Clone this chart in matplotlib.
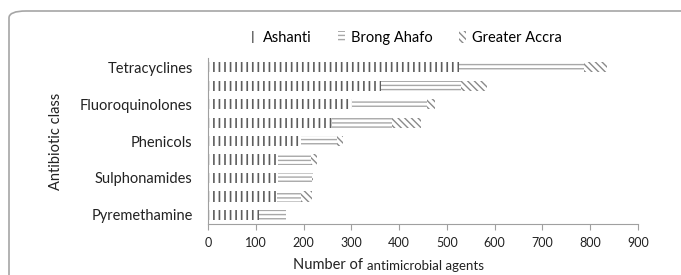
import matplotlib.pyplot as plt
from matplotlib.patches import FancyBboxPatch
import numpy as np

plt.rcParams['font.family'] = ['Lato', 'DejaVu Sans']

# categories top to bottom (Excel skipped every second label)
categories = ['Tetracyclines', '', 'Fluoroquinolones', '', 'Phenicols', '',
              'Sulphonamides', '', 'Pyremethamine']
ashanti = np.array([526, 363, 302, 260, 195, 147, 147, 145, 107])
brong_ahafo = np.array([261, 166, 157, 126, 75, 69, 70, 50, 57])
greater_accra = np.array([48, 54, 17, 59, 13, 13, 3, 23, 0])
series_names = ['Ashanti', 'Brong Ahafo', 'Greater Accra']

fig = plt.figure(figsize=(6.81, 2.75), dpi=100)
ax = fig.add_axes([0.3054, 0.185, 0.6314, 0.604])

# rounded frame around the figure (cut off at right/bottom)
frame = FancyBboxPatch((9 / 681, -0.1), 1.2, 1.06,
                       boxstyle='round,pad=0,rounding_size=0.025',
                       transform=fig.transFigure, fill=False,
                       edgecolor='#a6a6a6', linewidth=1.2, clip_on=False)
fig.patches.append(frame)

y = np.arange(len(categories))
h = 0.55

b1 = ax.barh(y, ashanti, height=h, color='white', edgecolor='#5e5e5e',
             hatch='|||', linewidth=0, label=series_names[0])
b2 = ax.barh(y, brong_ahafo, left=ashanti, height=h, color='white',
             edgecolor='#a8a8a8', hatch='----', linewidth=0,
             label=series_names[1])
b3 = ax.barh(y, greater_accra, left=ashanti + brong_ahafo, height=h,
             color='white', edgecolor='#8a8a8a', hatch='\\\\\\\\\\',
             linewidth=0, label=series_names[2])
for bars, lw in [(b1, 1.2), (b2, 1.0), (b3, 1.0)]:
    for p in bars:
        if hasattr(p, 'set_hatch_linewidth'):
            p.set_hatch_linewidth(lw)

ax.set_xlim(0, 900)
ax.set_ylim(8.5, -0.5)
ax.set_xticks(np.arange(0, 901, 100))
ax.set_yticks(y)
ax.set_yticklabels(categories, fontsize=10.5, color='#222222')
ax.tick_params(axis='y', length=0, pad=11)
ax.tick_params(axis='x', length=4, color='#a0a0a0', labelsize=9,
               labelcolor='#222222', pad=5)
for s in ['top', 'right']:
    ax.spines[s].set_visible(False)
ax.spines['left'].set_color('#a0a0a0')
ax.spines['bottom'].set_color('#a0a0a0')

ax.set_ylabel('Antibiotic class', fontsize=10.5, color='#222222', labelpad=12)

t1 = fig.text(0.430, 0.01, 'Number of', fontsize=10.5, color='#222222',
              ha='left', va='bottom')
ax.annotate('antimicrobial agents', xy=(1, 0), xycoords=t1,
            xytext=(3, 0.5), textcoords='offset points', fontsize=9.5,
            color='#222222', ha='left', va='bottom', annotation_clip=False)

leg = ax.legend(loc='center', bbox_to_anchor=(0.46, 1.12), ncol=3,
                frameon=False, fontsize=10.5, handlelength=0.5,
                handleheight=0.9, handletextpad=0.4, columnspacing=1.8)

fig.savefig('out.png', dpi=100)
